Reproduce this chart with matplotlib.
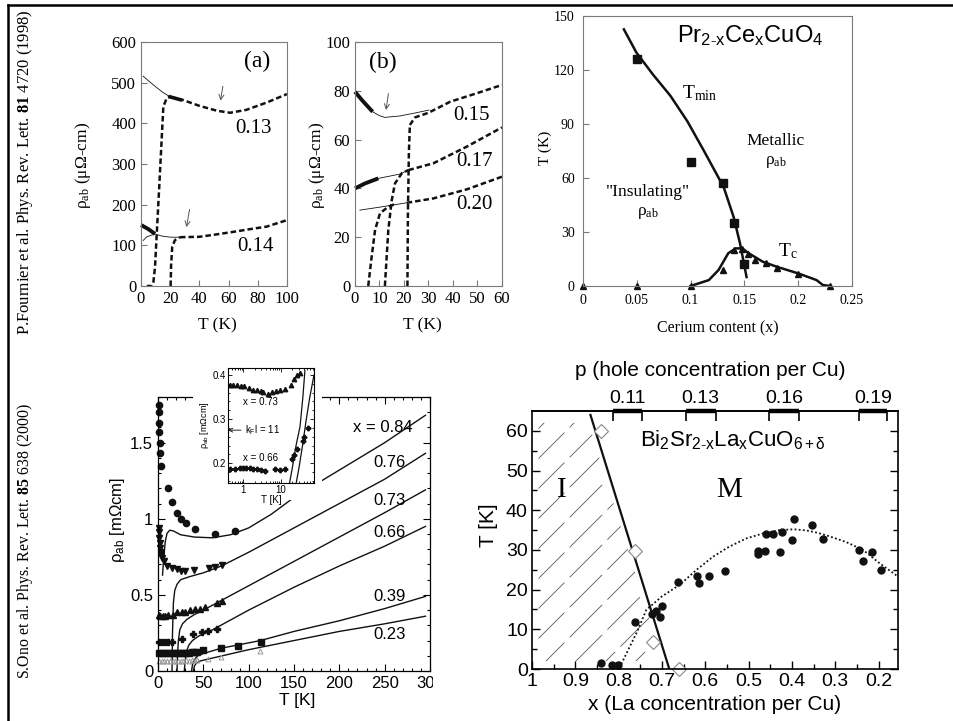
import numpy as np
import matplotlib.pyplot as plt
from matplotlib.lines import Line2D
from matplotlib.patches import Rectangle, Polygon
from matplotlib.transforms import Bbox, TransformedBbox, blended_transform_factory

plt.rcParams['font.family'] = ['Liberation Sans', 'DejaVu Sans']
plt.rcParams['mathtext.fontset'] = 'custom'
plt.rcParams['mathtext.rm'] = 'Liberation Serif'
plt.rcParams['mathtext.it'] = 'Liberation Serif:italic'
plt.rcParams['mathtext.bf'] = 'Liberation Serif:bold'

SERIF = ['Liberation Serif', 'DejaVu Serif']
SANS = ['Liberation Sans', 'DejaVu Sans']

# ---------------- panel (a): rho_ab vs T, x = 0.13 / 0.14
a13_fit_T = [1.5, 5, 10, 15, 20]
a13_fit_r = [516, 505, 490, 476, 465]
a13_bold_T = [20, 24, 27]
a13_bold_r = [465, 461, 458]
a13_dash_T = [20, 29, 40, 52, 61, 72, 86, 100]
a13_dash_r = [465, 457, 443, 431, 426, 433, 451, 472]
a13_sc_T = [4, 7.3, 8.5, 9.6, 12.5, 15.3, 17.6, 20]
a13_sc_r = [0, 0, 10, 47, 245, 441, 462, 466]
a14_bold_T = [0, 5, 9.6]
a14_bold_r = [150, 140, 128]
a14_fit_T = [1.5, 4, 9.6, 14, 20, 26.7]
a14_fit_r = [112, 121, 128, 123, 120, 120]
a14_dash_T = [26.7, 40, 50, 63, 75, 86, 100]
a14_dash_r = [120, 121, 126, 133, 140, 146, 162]
a14_sc_T = [20.3, 20.6, 21.4, 23.3, 26.7]
a14_sc_r = [0, 50, 97, 113, 120]

# ---------------- panel (b): x = 0.15 / 0.17 / 0.20
b15_bold_T = [0, 3, 7.2]
b15_bold_r = [79.6, 76, 71.4]
b15_fit_T = [7.2, 10, 12.2, 18.4, 24, 30.2]
b15_fit_r = [71.4, 69.8, 69.1, 69.7, 70.8, 72.1]
b15_dash_T = [22.4, 24.5, 30, 38.8, 49.7, 60]
b15_dash_r = [66, 69.1, 71, 75.5, 79, 82.4]
b15_sc_T = [21.4, 21.6, 22, 22.4]
b15_sc_r = [0, 30, 55, 66]
b17_bold_T = [0, 4, 9.5]
b17_bold_r = [40, 42, 44.1]
b17_fit_T = [9.5, 14, 18.4, 21.8]
b17_fit_r = [44.1, 45, 45.9, 47.5]
b17_dash_T = [21.8, 32, 45.6, 60]
b17_dash_r = [47.5, 50.3, 57.1, 65]
b17_sc_T = [12.2, 13.6, 15, 16.3, 19.1, 21.8]
b17_sc_r = [0, 23, 35.2, 42, 46.2, 47.5]
b20_fit_T = [2, 10, 21.1]
b20_fit_r = [31.1, 32.3, 34.1]
b20_dash_T = [21.1, 32, 45.6, 60]
b20_dash_r = [34.1, 35.9, 39.6, 44.8]
b20_sc_T = [5.4, 6.8, 8.2, 10.2, 13.6, 17]
b20_sc_r = [0, 12, 23, 29.8, 32.5, 33.9]

# ---------------- panel (c): phase diagram Pr2-xCexCuO4
c_tmin_x = [0.038, 0.0496, 0.065, 0.0812, 0.097, 0.1121, 0.1307, 0.140, 0.146, 0.152]
c_tmin_T = [142.6, 129.7, 117.5, 105.7, 91.5, 75.4, 55.0, 38.3, 23.5, 5.0]
c_tc_x = [0.1, 0.117, 0.126, 0.135, 0.142, 0.148, 0.154, 0.167, 0.18, 0.2, 0.217, 0.223, 0.23]
c_tc_T = [0, 3.3, 8.9, 18.2, 20.9, 20.9, 18.2, 13.5, 10.7, 7.0, 3.3, 0.5, 0]
c_sq_x = [0.05, 0.10, 0.13, 0.14, 0.15]
c_sq_T = [126, 69, 57, 35, 12.5]
c_tri_x = [0, 0.05, 0.1, 0.13, 0.14, 0.148, 0.153, 0.16, 0.17, 0.18, 0.2, 0.23]
c_tri_T = [0, 0, 0, 9.1, 20.2, 20.7, 18.0, 14.2, 12.7, 10.0, 6.8, 0]

# ---------------- panel (d): Bi2201 rho_ab(T)
d_labels = ['x = 0.84', '0.76', '0.73', '0.66', '0.39', '0.23']
d_label_r = [1.60, 1.37, 1.12, 0.91, 0.49, 0.24]
d84_T = [5, 6, 8, 10, 13, 17, 25, 40, 60, 80, 100, 125, 150, 200, 250, 295]
d84_r = [0.63, 0.72, 0.85, 0.905, 0.925, 0.92, 0.895, 0.88, 0.875, 0.895, 0.94, 1.03, 1.14, 1.32, 1.50, 1.68]
d76_T = [15.5, 16, 17, 18.5, 21, 25, 35, 50, 70, 100, 150, 200, 250, 295]
d76_r = [0.0, 0.25, 0.45, 0.53, 0.57, 0.60, 0.62, 0.645, 0.69, 0.78, 0.94, 1.10, 1.26, 1.43]
d73_T = [21, 21.5, 22.5, 24, 27, 32, 40, 50, 75, 100, 150, 200, 250, 295]
d73_r = [0.0, 0.1, 0.2, 0.27, 0.31, 0.34, 0.37, 0.40, 0.48, 0.56, 0.72, 0.88, 1.04, 1.19]
d66_T = [29, 30, 31.5, 34, 38, 45, 60, 80, 100, 150, 200, 250, 295]
d66_r = [0.0, 0.07, 0.13, 0.17, 0.20, 0.23, 0.27, 0.335, 0.40, 0.55, 0.69, 0.82, 0.95]
d39_T = [37, 38, 40, 44, 50, 70, 113, 150, 200, 250, 295]
d39_r = [0.0, 0.04, 0.075, 0.10, 0.115, 0.15, 0.20, 0.26, 0.33, 0.41, 0.49]
d23_T = [39, 40, 42, 46, 60, 100, 150, 200, 250, 295]
d23_r = [0.0, 0.03, 0.05, 0.065, 0.085, 0.14, 0.20, 0.26, 0.31, 0.36]

d84_pts_T = [1.1, 1.1, 1.3, 1.5, 1.8, 2.2, 3.5, 10.6, 15.8, 20.6, 25.4, 30.4, 40.8, 63.2, 84.8]
d84_pts_r = [1.75, 1.70, 1.63, 1.57, 1.50, 1.43, 1.35, 1.20, 1.11, 1.04, 1.00, 0.97, 0.93, 0.90, 0.92]
d76_pts_T = [1, 1.2, 1.5, 2, 2.5, 3, 3.5, 4.5, 6.6, 10.3, 15, 20.5, 25, 30, 40, 56.6, 63, 71]
d76_pts_r = [0.94, 0.91, 0.875, 0.84, 0.81, 0.78, 0.76, 0.74, 0.72, 0.69, 0.675, 0.67, 0.66, 0.66, 0.665, 0.675, 0.68, 0.695]
d73_pts_T = [1, 2.5, 5, 8, 11.5, 17, 21, 26, 30, 35, 40.5, 46, 51.5, 64.6, 71]
d73_pts_r = [0.37, 0.36, 0.36, 0.36, 0.365, 0.37, 0.385, 0.39, 0.39, 0.40, 0.405, 0.41, 0.42, 0.445, 0.46]
d66_pts_T = [1, 4, 8, 11, 15, 26, 39, 48, 55, 65]
d66_pts_r = [0.19, 0.19, 0.19, 0.19, 0.19, 0.21, 0.245, 0.255, 0.265, 0.275]
d39_pts_T = [1, 4, 7, 10, 13, 16, 19, 22, 25, 28, 31, 34, 37, 40, 43, 50, 69, 88, 113.5]
d39_pts_r = [0.12, 0.12, 0.118, 0.12, 0.12, 0.119, 0.12, 0.12, 0.121, 0.12, 0.12, 0.121, 0.122, 0.122, 0.123, 0.135, 0.153, 0.166, 0.193]
d23_pts_T = [1, 4, 7, 10, 13, 16, 19, 22, 25, 28, 31, 34, 37, 40, 43, 55, 70, 112]
d23_pts_r = [0.065, 0.066, 0.065, 0.066, 0.067, 0.066, 0.067, 0.068, 0.067, 0.068, 0.069, 0.068, 0.07, 0.07, 0.072, 0.078, 0.09, 0.13]

# inset (log T)
in73_T = [0.44, 0.53, 0.67, 0.85, 1.04, 1.37, 1.84, 2.35, 2.89, 3.4, 4.6, 5.66, 7.4, 9.4, 12.8, 18.5, 22, 26, 32]
in73_r = [0.377, 0.377, 0.377, 0.376, 0.376, 0.37, 0.367, 0.365, 0.364, 0.362, 0.357, 0.361, 0.364, 0.366, 0.369, 0.377, 0.392, 0.399, 0.404]
in66_T = [0.44, 0.6, 0.8, 1.0, 1.2, 1.5, 1.84, 2.3, 3.0, 3.8, 7.0, 9.4, 12.8, 19.2, 22, 26.6, 37.5, 41.5, 52.8]
in66_r = [0.186, 0.187, 0.188, 0.19, 0.189, 0.19, 0.186, 0.187, 0.185, 0.182, 0.186, 0.185, 0.186, 0.209, 0.219, 0.232, 0.251, 0.26, 0.279]
in_fitA_T = [15.6, 20, 25, 31.9, 38, 43]
in_fitA_r = [0.14, 0.19, 0.24, 0.283, 0.35, 0.41]
in_fitB_T = [23.5, 30, 38, 46.5, 58, 75]
in_fitB_r = [0.14, 0.19, 0.245, 0.298, 0.35, 0.40]

# ---------------- panel (e): Bi2Sr2-xLaxCuO6+d phase diagram
e_tc_x = [0.8413, 0.8152, 0.8005, 0.7628, 0.7228, 0.7127, 0.7044, 0.7005, 0.6619, 0.618, 0.615, 0.592,
          0.554, 0.4771, 0.4771, 0.461, 0.4596, 0.4434, 0.428, 0.4226, 0.3995, 0.395, 0.354, 0.3293,
          0.2448, 0.2363, 0.2148, 0.194]
e_tc_T = [1.6, 1.0, 1.0, 11.9, 13.9, 14.5, 13.0, 15.9, 21.8, 23.4, 21.7, 23.4,
          24.8, 29.8, 28.9, 29.8, 33.9, 33.9, 29.4, 34.4, 32.4, 37.9, 36.4, 32.8,
          29.9, 27.3, 29.4, 25.0]
e_tmin_x = [0.8398, 0.7621, 0.7213, 0.6612]
e_tmin_T = [60.0, 29.8, 6.8, 0.0]
e_dome_x = [0.798, 0.778, 0.759, 0.736, 0.70, 0.659, 0.62, 0.582, 0.545, 0.505, 0.465, 0.428,
            0.395, 0.366, 0.34, 0.3125, 0.275, 0.2356, 0.197, 0.155]
e_dome_T = [0.3, 4.8, 9.0, 14.9, 18.3, 21.2, 25.0, 28.3, 30.8, 32.9, 34.2, 35.0,
            35.2, 34.9, 34.3, 33.4, 32.0, 30.0, 26.6, 23.3]
e_mi_x = [0.865, 0.683]
e_mi_T = [64, 0]
p_labels = ['0.11', '0.13', '0.16', '0.19']
p_lo = [0.814, 0.645, 0.453, 0.245]
p_hi = [0.746, 0.576, 0.383, 0.180]

# ------------------------------------------------------------------
W, H = 954, 721
fig = plt.figure(figsize=(W / 100, H / 100), dpi=100)


def box(x0, y0, x1, y1):
    return [x0 / W, 1 - y1 / H, (x1 - x0) / W, (y1 - y0) / H]


def ftext(x, y, s, **kw):
    fig.text(x / W, 1 - y / H, s, ha='center', va='center', **kw)


K = '#111111'
GRAY = '#7a7a7a'

# frame lines
fig.add_artist(Line2D([8 / W, 8 / W], [0, 1 - 5 / H], color='k', lw=1.8, transform=fig.transFigure))
fig.add_artist(Line2D([8 / W, 1], [1 - 5 / H, 1 - 5 / H], color='k', lw=1.8, transform=fig.transFigure))

ftext(25, 172, r'P.Fournier et al. Phys. Rev. Lett. $\mathbf{81}$ 4720 (1998)', rotation=90,
      family=SERIF, fontsize=12)
ftext(25, 541, r'S.Ono et al. Phys. Rev. Lett. $\mathbf{85}$ 638 (2000)', rotation=90,
      family=SERIF, fontsize=11.4)


def style_top(ax):
    for sp in ax.spines.values():
        sp.set_color(GRAY)
        sp.set_linewidth(0.8)
    ax.tick_params(direction='in', length=4, width=0.8, color=GRAY, labelfontfamily='Liberation Serif')


DASH = (2.2, 1.2)

# ---------------- (a)
ax_a = fig.add_axes(box(141, 42, 287, 286))
style_top(ax_a)
ax_a.tick_params(labelsize=12)
ax_a.set_xlim(0, 100)
ax_a.set_ylim(0, 600)
ax_a.set_xticks(range(0, 101, 20))
ax_a.set_yticks(range(0, 601, 100))
ax_a.plot(a13_fit_T, a13_fit_r, color=K, lw=0.6)
ax_a.plot(a14_fit_T, a14_fit_r, color=K, lw=0.6)
ax_a.plot(a13_bold_T, a13_bold_r, color=K, lw=2.6)
ax_a.plot(a14_bold_T, a14_bold_r, color=K, lw=2.8, solid_capstyle='butt', clip_on=False)
for T, r in [(a13_dash_T, a13_dash_r), (a13_sc_T, a13_sc_r), (a14_dash_T, a14_dash_r), (a14_sc_T, a14_sc_r)]:
    ax_a.plot(T, r, color=K, lw=1.8, dashes=DASH)
arr = dict(arrowstyle='->', color='#555555', lw=0.7, mutation_scale=9)
ax_a.annotate('', xy=(54.1, 449), xytext=(56.4, 498), arrowprops=arr)
ax_a.annotate('', xy=(30.8, 138), xytext=(33.6, 195), arrowprops=arr)
ax_a.text(79.5, 551, '(a)', family=SERIF, fontsize=17, ha='center', va='center')
ax_a.text(64.4, 388, '0.13', family=SERIF, fontsize=15, ha='left', va='center')
ax_a.text(66, 97, '0.14', family=SERIF, fontsize=15, ha='left', va='center')
ftext(83, 165, r'$\mathregular{\rho_{ab}}$ (μΩ-cm)', rotation=90, family=SERIF, fontsize=12.5)
ftext(217, 325, 'T (K)', family=SERIF, fontsize=12.5)

# ---------------- (b)
ax_b = fig.add_axes(box(355, 42, 502, 286))
style_top(ax_b)
ax_b.tick_params(labelsize=12)
ax_b.set_xlim(0, 60)
ax_b.set_ylim(0, 100)
ax_b.set_xticks(range(0, 61, 10))
ax_b.set_yticks(range(0, 101, 20))
for T, r in [(b15_fit_T, b15_fit_r), (b17_fit_T, b17_fit_r), (b20_fit_T, b20_fit_r)]:
    ax_b.plot(T, r, color=K, lw=0.6)
for T, r in [(b15_bold_T, b15_bold_r), (b17_bold_T, b17_bold_r)]:
    ax_b.plot(T, r, color=K, lw=2.8, solid_capstyle='butt', clip_on=False)
for T, r in [(b15_dash_T, b15_dash_r), (b15_sc_T, b15_sc_r), (b17_dash_T, b17_dash_r),
             (b17_sc_T, b17_sc_r), (b20_dash_T, b20_dash_r), (b20_sc_T, b20_sc_r)]:
    ax_b.plot(T, r, color=K, lw=1.8, dashes=DASH)
ax_b.annotate('', xy=(12.5, 71), xytext=(13.8, 80), arrowprops=arr)
ax_b.text(11.4, 91.8, '(b)', family=SERIF, fontsize=17, ha='center', va='center')
ax_b.text(40, 70, '0.15', family=SERIF, fontsize=15, ha='left', va='center')
ax_b.text(41.5, 50.9, '0.17', family=SERIF, fontsize=15, ha='left', va='center')
ax_b.text(41.5, 33.2, '0.20', family=SERIF, fontsize=15, ha='left', va='center')
ftext(317, 165, r'$\mathregular{\rho_{ab}}$ (μΩ-cm)', rotation=90, family=SERIF, fontsize=12.5)
ftext(422, 325, 'T (K)', family=SERIF, fontsize=12.5)

# ---------------- (c)
ax_c = fig.add_axes(box(583, 16, 852, 286))
style_top(ax_c)
ax_c.tick_params(labelsize=10, pad=6)
ax_c.set_xlim(0, 0.25)
ax_c.set_ylim(0, 150)
ax_c.set_xticks([0, 0.05, 0.1, 0.15, 0.2, 0.25], ['0', '0.05', '0.1', '0.15', '0.2', '0.25'])
ax_c.set_yticks(range(0, 151, 30))
ax_c.plot(c_tmin_x, c_tmin_T, color=K, lw=1.8)
ax_c.plot(c_tc_x, c_tc_T, color=K, lw=1.8)
ax_c.plot(c_sq_x, c_sq_T, 's', color=K, ms=6, clip_on=False)
ax_c.plot(c_tri_x, c_tri_T, '^', color=K, ms=4.5, clip_on=False)
ax_c.text(0.155, 139, r'$\mathregular{Pr_{2\text{-}x}Ce_xCuO_4}$', family=SANS, fontsize=17,
          ha='center', va='center')
ax_c.text(0.108, 107, r'$\mathregular{T_{min}}$', family=SERIF, fontsize=14, ha='center', va='center')
ax_c.text(0.179, 80.4, 'Metallic', family=SERIF, fontsize=12.5, ha='center', va='center')
ax_c.text(0.179, 69, r'$\mathregular{\rho_{ab}}$', family=SERIF, fontsize=12.5, ha='center', va='center')
ax_c.text(0.0604, 52, '"Insulating"', family=SERIF, fontsize=12.5, ha='center', va='center')
ax_c.text(0.0604, 40.5, r'$\mathregular{\rho_{ab}}$', family=SERIF, fontsize=12.5, ha='center', va='center')
ax_c.text(0.19, 19.5, r'$\mathregular{T_c}$', family=SERIF, fontsize=14, ha='center', va='center')
ftext(545, 148, 'T (K)', rotation=90, family=SERIF, fontsize=11)
ftext(718, 328, 'Cerium content (x)', family=SERIF, fontsize=11.5)

# ---------------- (d)
ax_d = fig.add_axes(box(158, 397, 430, 671))
ax_d.set_xlim(0, 300)
ax_d.set_ylim(0, 1.8)
ax_d.set_xticks(range(0, 301, 50))
ax_d.set_xticks(range(0, 301, 10), minor=True)
ax_d.set_yticks([0, 0.5, 1, 1.5], ['0', '0.5', '1', '1.5'])
ax_d.set_yticks(np.arange(0, 1.81, 0.1), minor=True)
ax_d.tick_params(which='both', direction='in', top=True, right=True, labelsize=12, width=0.8)
ax_d.tick_params(which='major', length=5)
ax_d.tick_params(which='minor', length=2.5)
for sp in ax_d.spines.values():
    sp.set_linewidth(0.9)
for T, r in [(d84_T, d84_r), (d76_T, d76_r), (d73_T, d73_r), (d66_T, d66_r), (d39_T, d39_r), (d23_T, d23_r)]:
    ax_d.plot(T, r, color=K, lw=1.0)
ax_d.plot(d84_pts_T, d84_pts_r, 'o', color=K, ms=4.5, clip_on=False)
ax_d.plot(d76_pts_T, d76_pts_r, 'v', color=K, ms=4.5, clip_on=False)
ax_d.plot(d73_pts_T, d73_pts_r, '^', color=K, ms=4.5, clip_on=False)
ax_d.plot(d66_pts_T, d66_pts_r, 'P', color=K, ms=4, clip_on=False)
ax_d.plot(d39_pts_T, d39_pts_r, 's', color=K, ms=4.5, clip_on=False)
ax_d.plot(d23_pts_T, d23_pts_r, '^', color='#999999', mfc='none', ms=3.5, mew=0.7, clip_on=False)
ax_d.text(215, d_label_r[0], d_labels[0], fontsize=12, ha='left', va='center')
for lab, r in zip(d_labels[1:], d_label_r[1:]):
    ax_d.text(237, r, lab, fontsize=12, ha='left', va='center')
lab300 = ax_d.xaxis.get_major_ticks()[-1].label1
lab300.set_clip_box(TransformedBbox(Bbox.from_extents(0, 0, 433 / W, 1), fig.transFigure))
lab300.set_clip_on(True)
ftext(118, 520, r'$\mathregular{\rho_{ab}}$ [mΩcm]', rotation=90, fontsize=12)
ftext(297, 700, 'T [K]', fontsize=12.5)

# white block behind the inset
fig.add_artist(Rectangle((193 / W, 1 - 500 / H), 129 / W, 140 / H, transform=fig.transFigure,
                         facecolor='white', edgecolor='none', zorder=1))

ax_in = fig.add_axes(box(228, 368, 314, 483), zorder=2)
ax_in.set_xscale('log')
ax_in.set_xlim(0.39, 75)
ax_in.set_ylim(0.155, 0.416)
ax_in.set_xticks([1, 10], ['1', '10'])
ax_in.set_yticks([0.2, 0.3, 0.4], ['0.2', '0.3', '0.4'])
ax_in.set_yticks(np.arange(0.16, 0.415, 0.02), minor=True)
ax_in.tick_params(which='both', direction='in', top=True, right=True, labelsize=7, width=0.6, pad=1.5)
ax_in.tick_params(which='major', length=3)
ax_in.tick_params(which='minor', length=1.5)
for sp in ax_in.spines.values():
    sp.set_linewidth(0.8)
ax_in.plot(in_fitA_T, in_fitA_r, color=K, lw=0.9)
ax_in.plot(in_fitB_T, in_fitB_r, color=K, lw=0.9)
ax_in.plot(in73_T, in73_r, '^', color=K, ms=3.2)
ax_in.plot(in66_T, in66_r, 'P', color=K, ms=3.2)
ax_in.text(2.86, 0.339, 'x = 0.73', fontsize=7, ha='center', va='center')
ax_in.text(2.86, 0.212, 'x = 0.66', fontsize=7, ha='center', va='center')
ax_in.annotate(r'$\mathregular{k_Fl}$ = 11', xy=(0.39, 0.275), xytext=(1.12, 0.275), fontsize=7,
               ha='left', va='center', arrowprops=dict(arrowstyle='->', lw=0.6, shrinkA=1, shrinkB=0))
ax_in.set_xlabel('T [K]', fontsize=7, labelpad=0)
ax_in.set_ylabel(r'$\mathregular{\rho_{ab}}$ [mΩcm]', fontsize=6.5, labelpad=1)

# ---------------- (e)
ax_e = fig.add_axes(box(532, 411, 898, 669))
ax_e.set_xlim(1, 0.155)
ax_e.set_ylim(0, 65)
ax_e.set_xticks(np.arange(1.0, 0.15, -0.1), ['1', '0.9', '0.8', '0.7', '0.6', '0.5', '0.4', '0.3', '0.2'])
ax_e.set_xticks(np.arange(0.95, 0.15, -0.1), minor=True)
ax_e.set_yticks(range(0, 61, 10))
ax_e.set_yticks(range(5, 65, 10), minor=True)
ax_e.tick_params(which='both', direction='in', right=True, labelsize=14, width=1.0, pad=3)
ax_e.tick_params(which='major', length=6)
ax_e.tick_params(which='minor', length=3.5)
for sp in ax_e.spines.values():
    sp.set_linewidth(1.2)

# hatched insulating region, clipped between left edge and the I/M boundary
yb, yt = 2, 62
hatch_clip = Polygon([(0.985, yb), (0.985, yt), (np.interp(yt, e_mi_T[::-1], e_mi_x[::-1]) + 0.01, yt),
                      (np.interp(yb, e_mi_T[::-1], e_mi_x[::-1]) + 0.01, yb)], closed=True,
                     transform=ax_e.transData, facecolor='none', edgecolor='none')
ax_e.add_patch(hatch_clip)
aw, ah = 366.0, 258.0
for c in np.arange(-aw, ah, 30):
    ln, = ax_e.plot([0, 1], [c / ah, (aw + c) / ah], transform=ax_e.transAxes, color='#555555',
                    lw=0.6, dashes=(55, 9))
    ln.set_clip_path(hatch_clip)

ax_e.plot(e_mi_x, e_mi_T, color=K, lw=1.6)
ax_e.plot(e_dome_x, e_dome_T, color=K, lw=1.3, ls=(0, (1, 1.3)))
ax_e.plot(e_tc_x, e_tc_T, 'o', color=K, ms=5)
ax_e.plot(e_tmin_x, e_tmin_T, 'D', color='#888888', mfc='white', ms=7, mew=0.8, clip_on=False)
ax_e.text(0.5365, 57.7, r'$\mathregular{Bi_2Sr_{2\text{-}x}La_xCuO_{6+\delta}}$', fontsize=16,
          ha='center', va='center')
ax_e.text(0.931, 45, 'I', family=SERIF, fontsize=21, ha='center', va='center')
ax_e.text(0.546, 45, 'M', family=SERIF, fontsize=21, ha='center', va='center')

# top axis: hole concentration ranges
blend = blended_transform_factory(ax_e.transData, ax_e.transAxes)
for lo, hi in zip(p_lo, p_hi):
    ax_e.plot([lo, hi], [1, 1], transform=blend, color='k', lw=3.2, solid_capstyle='butt', clip_on=False)
sec = ax_e.secondary_xaxis('top')
sec.set_xticks(p_lo + p_hi, [''] * 8)
sec.set_xticks([(lo + hi) / 2 for lo, hi in zip(p_lo, p_hi)], p_labels, minor=True)
sec.tick_params(which='major', direction='in', length=7, width=1.2)
sec.tick_params(which='minor', length=0, labelsize=14, pad=3)
sec.spines['top'].set_linewidth(1.2)

ftext(488, 525, 'T [K]', rotation=90, fontsize=15)
ftext(710, 370, 'p (hole concentration per Cu)', fontsize=15)
ftext(715, 705, 'x (La concentration per Cu)', fontsize=15)

fig.savefig('out.png', dpi=100)
